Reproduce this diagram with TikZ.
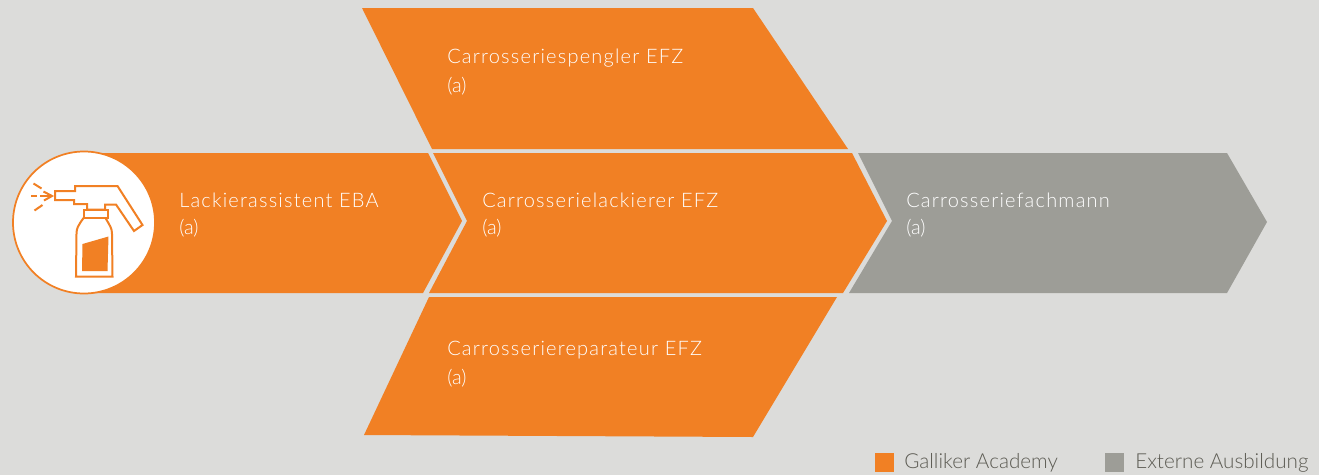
\documentclass[tikz,border=0pt]{standalone}
\usepackage{fontspec}
\setmainfont{Lato Light}
\newfontface\titlefont{Lato Light}[LetterSpace=6]
\usetikzlibrary{positioning}
\definecolor{galliker}{HTML}{F18024}
\definecolor{extern}{HTML}{9D9D97}
\definecolor{paper}{HTML}{DCDCDA}
\definecolor{legendtext}{HTML}{5C5B53}
\begin{document}
\begin{tikzpicture}[x=0.75pt, y=-0.75pt, node distance={21.5pt},
    title/.style = {text=white, inner sep=0pt, anchor=west, font=\titlefont\fontsize{15}{18}\selectfont},
    sub/.style = {text=white, inner sep=0pt, font=\fontsize{15}{18}\selectfont},
    legend/.style = {text=legendtext, inner sep=0pt, anchor=west, font=\fontsize{15.5}{18}\selectfont},
    icon/.style = {draw=galliker, line width=1.5pt, line join=miter}]
    \fill[paper] (0,0) rectangle (1319,475);
    % arrows
    \fill[galliker] (362,8) -- (753,8) -- (848,149) -- (432,149) -- cycle;
    \fill[galliker] (429,297) -- (837,297) -- (753,437) -- (364,435) -- cycle;
    \fill[galliker] (84,153) -- (428,153) -- (462,221) -- (423,293) -- (84,293) -- cycle;
    \fill[galliker] (433,153) -- (852,153) -- (887,221) -- (843,293) -- (429,293) -- (467,221) -- cycle;
    \fill[extern] (858,153) -- (1227,153) -- (1267,222) -- (1227,293) -- (849,293) -- (892,221) -- cycle;
    % icon
    \filldraw[fill=white, draw=galliker, line width=1.3pt] (84,222.5) circle (71);
    \draw[icon] (55,191) -- (75,191) -- (75,186) -- (117.5,186) -- (142.5,225) -- (134,231) -- (116,204.5) -- (105,204.5) -- (105,209.5) -- (87,209.5) -- (87,204) -- (74,204) -- (74,200) -- (55,200) -- cycle;
    \draw[icon] (83.5,209.5) rectangle (108,218);
    \draw[icon] (83.5,218) .. controls (78,226) and (76.5,228) .. (76.5,234) -- (76,276.5) -- (112.5,276.5) -- (112,234) .. controls (112,228) and (110,226) .. (105.5,218);
    \fill[galliker] (82.5,244) -- (108.5,236.5) -- (107.5,271) -- (82,271) -- cycle;
    \draw[icon] (33.5,183.5) -- (41.5,188.5);
    \draw[icon] (34.5,210.5) -- (42.5,205);
    \draw[icon] (31,196) -- (37,196) (40,196) -- (50,196);
    \draw[icon] (43.5,191.5) -- (52,196) -- (44,200.5);
    % texts
    \node[title] (lack) at (179,200) {Lackierassistent EBA};
    \node[sub, below=of lack.west, anchor=west] (lacka) {(a)};
    \node[title] (spengler) at (447,58) {Carrosseriespengler EFZ};
    \node[sub, below=of spengler.west, anchor=west] (spenglera) {(a)};
    \node[title] (lackierer) at (482,200) {Carrosserielackierer EFZ};
    \node[sub, below=of lackierer.west, anchor=west] (lackierera) {(a)};
    \node[title] (fachmann) at (906,200) {Carrosseriefachmann};
    \node[sub, below=of fachmann.west, anchor=west] (fachmanna) {(a)};
    \node[title] (reparateur) at (447,350) {Carrosseriereparateur EFZ};
    \node[sub, below=of reparateur.west, anchor=west] (reparateura) {(a)};
    % legend
    \fill[galliker] (875,453) rectangle (894,472);
    \node[legend] (academy) at (904,463) {Galliker Academy};
    \fill[extern] (1105,453) rectangle (1124,472);
    \node[legend] (externe) at (1135,463) {Externe Ausbildung};
\end{tikzpicture}
\end{document}
